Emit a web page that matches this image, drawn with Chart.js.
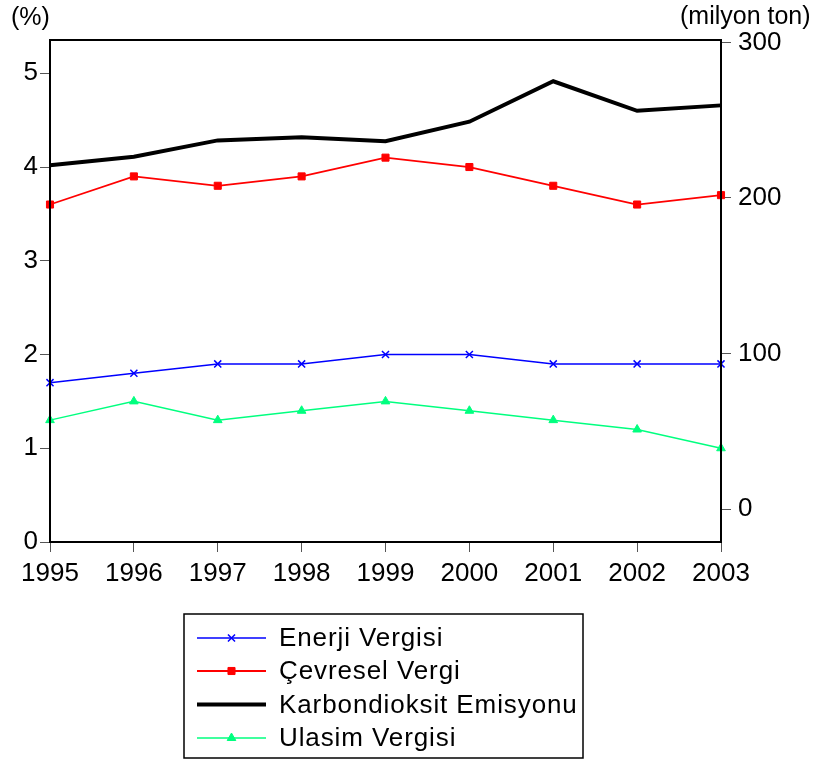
<!DOCTYPE html>
<html>
<head>
<meta charset="utf-8">
<script src="https://cdn.jsdelivr.net/npm/chart.js@4"></script>
<style>
  html, body { margin: 0; padding: 0; background: #fff; }
  #wrap { width: 820px; height: 764px; position: relative; }
</style>
</head>
<body>
<div id="wrap"><canvas id="chart"></canvas></div>
<script>
const years = ['1995', '1996', '1997', '1998', '1999', '2000', '2001', '2002', '2003'];
const enerjiVergisi = [1.7, 1.8, 1.9, 1.9, 2.0, 2.0, 1.9, 1.9, 1.9];
const cevreselVergi = [3.6, 3.9, 3.8, 3.9, 4.1, 4.0, 3.8, 3.6, 3.7];
const karbonEmisyonu = [221, 226.5, 237, 239, 236.5, 249, 275, 256, 259.5];
const ulasimVergisi = [1.3, 1.5, 1.3, 1.4, 1.5, 1.4, 1.3, 1.2, 1.0];
const leftTicks = [0, 1, 2, 3, 4, 5];
const rightTicks = [0, 100, 200, 300];

const FONT = '"Liberation Sans", Arial, sans-serif';

// cerceve, eksen basliklari ve legend kutusu
const frameAndLegend = {
  id: 'frameAndLegend',
  afterDatasetsDraw(chart) {
    const { ctx, chartArea: a } = chart;
    ctx.save();
    ctx.strokeStyle = '#000';
    ctx.lineWidth = 2;
    ctx.strokeRect(a.left, a.top, a.right - a.left, a.bottom - a.top);
    ctx.restore();
  },
  afterDraw(chart) {
    const ctx = chart.ctx;
    ctx.save();
    ctx.fillStyle = '#000';
    ctx.font = '25px ' + FONT;
    ctx.textBaseline = 'middle';
    ctx.textAlign = 'left';
    ctx.fillText('(%)', 11, 18);
    ctx.fillText('(milyon ton)', 680, 17);

    // legend
    ctx.lineWidth = 1.5;
    ctx.strokeStyle = '#000';
    ctx.strokeRect(184, 614, 399, 144);
    const rows = [638, 671, 704.5, 738];
    chart.data.datasets.forEach((ds, i) => {
      const y = rows[i];
      ctx.strokeStyle = ds.borderColor;
      ctx.lineWidth = ds.borderWidth;
      ctx.beginPath();
      ctx.moveTo(197, y);
      ctx.lineTo(266, y);
      ctx.stroke();
      if (ds.pointRadius > 0) {
        ctx.fillStyle = ds.pointBackgroundColor;
        ctx.strokeStyle = ds.borderColor;
        ctx.lineWidth = ds.pointBorderWidth;
        Chart.helpers.drawPoint(ctx, {
          pointStyle: ds.pointStyle, radius: ds.pointRadius,
          rotation: 0, borderWidth: ds.pointBorderWidth
        }, 231.5, y);
      }
      ctx.fillStyle = '#000';
      ctx.font = '26px ' + FONT;
      ctx.letterSpacing = '0.9px';
      ctx.textBaseline = 'middle';
      ctx.fillText(ds.label, 279, y + 1);
      ctx.letterSpacing = '0px';
    });
    ctx.restore();
  }
};

const tickGrid = {
  drawOnChartArea: false,
  drawTicks: true,
  tickLength: 10,
  color: '#555',
  lineWidth: 1
};

new Chart(document.getElementById('chart'), {
  type: 'line',
  data: {
    labels: years,
    datasets: [
      {
        label: 'Enerji Vergisi',
        data: enerjiVergisi,
        yAxisID: 'y',
        borderColor: '#0000ff',
        backgroundColor: '#0000ff',
        pointBackgroundColor: '#0000ff',
        borderWidth: 1.5,
        pointStyle: 'crossRot',
        pointRadius: 5,
        pointBorderWidth: 1.5,
        tension: 0
      },
      {
        label: 'Çevresel Vergi',
        data: cevreselVergi,
        yAxisID: 'y',
        borderColor: '#ff0000',
        backgroundColor: '#ff0000',
        pointBackgroundColor: '#ff0000',
        borderWidth: 1.8,
        pointStyle: 'rect',
        pointRadius: 5,
        pointBorderWidth: 1,
        tension: 0
      },
      {
        label: 'Karbondioksit Emisyonu',
        data: karbonEmisyonu,
        yAxisID: 'y1',
        borderColor: '#000000',
        backgroundColor: '#000000',
        pointBackgroundColor: '#000000',
        borderWidth: 4,
        pointRadius: 0,
        pointBorderWidth: 0,
        tension: 0
      },
      {
        label: 'Ulasim Vergisi',
        data: ulasimVergisi,
        yAxisID: 'y',
        borderColor: '#00ff7f',
        backgroundColor: '#00ff7f',
        pointBackgroundColor: '#00ff7f',
        borderWidth: 1.5,
        pointStyle: 'triangle',
        pointRadius: 5,
        pointBorderWidth: 1,
        tension: 0
      }
    ]
  },
  options: {
    responsive: true,
    maintainAspectRatio: false,
    animation: false,
    layout: { padding: { top: 40, left: 0, right: 0, bottom: 0 } },
    plugins: {
      legend: { display: false },
      tooltip: { enabled: false }
    },
    scales: {
      x: {
        offset: false,
        grid: tickGrid,
        border: { display: false },
        ticks: {
          color: '#000', padding: 6, maxRotation: 0, autoSkip: false,
          font: { family: FONT, size: 26 }
        },
        afterFit(s) { s.height = 222; }
      },
      y: {
        position: 'left',
        min: 0,
        max: 5.355,
        grid: tickGrid,
        border: { display: false },
        afterBuildTicks(s) { s.ticks = leftTicks.map(v => ({ value: v })); },
        ticks: {
          color: '#000', padding: 2,
          font: { family: FONT, size: 26 }
        },
        afterFit(s) { s.width = 50; }
      },
      y1: {
        position: 'right',
        min: -21,
        max: 301.5,
        grid: tickGrid,
        border: { display: false },
        afterBuildTicks(s) { s.ticks = rightTicks.map(v => ({ value: v })); },
        ticks: {
          color: '#000', padding: 7,
          font: { family: FONT, size: 26 }
        },
        afterFit(s) { s.width = 99; }
      }
    }
  },
  plugins: [frameAndLegend]
});
</script>
</body>
</html>
